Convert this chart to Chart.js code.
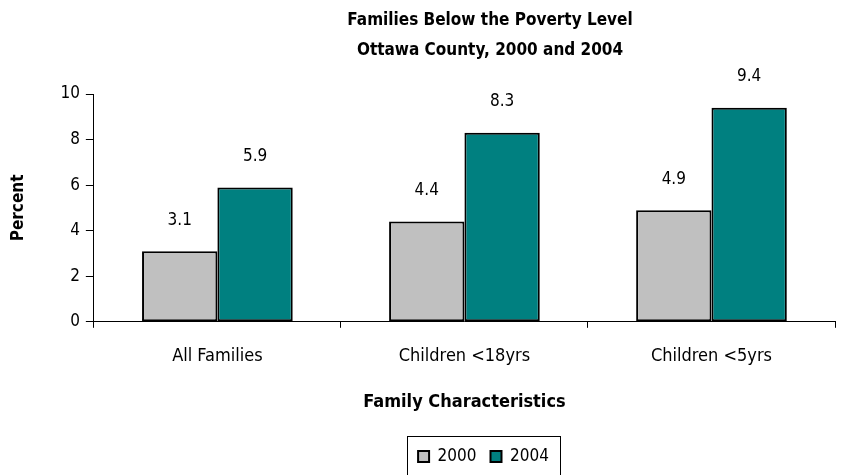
<!DOCTYPE html>
<html>
<head>
<meta charset="utf-8">
<script src="https://cdn.jsdelivr.net/npm/chart.js@4/dist/chart.umd.min.js"></script>
<style>
  body { margin: 0; background: #fff; }
  #wrap { width: 859px; height: 475px; }
</style>
</head>
<body>
<div id="wrap"><canvas id="grfc_pobreza"></canvas></div>
<script>
// datos
var categorias = ["All Families", "Children <18yrs", "Children <5yrs"];
var anios = ["2000", "2004"];
var datos2000 = [3.1, 4.4, 4.9];
var datos2004 = [5.9, 8.3, 9.4];
var titulos = ["Families Below the Poverty Level", "Ottawa County, 2000 and 2004"];

var fuente = "'Liberation Sans Narrow', 'Arial Narrow', 'DejaVu Sans Condensed', sans-serif";

// titulo arriba
var pluginTitulo = {
    id: "titulo",
    afterDraw: function (chart) {
        var ctx = chart.ctx;
        ctx.save();
        ctx.fillStyle = "#000";
        ctx.font = "bold 17px " + fuente;
        ctx.textAlign = "center";
        ctx.textBaseline = "middle";
        ctx.fillText(titulos[0], 490, 21);
        ctx.fillText(titulos[1], 490, 51);
        ctx.restore();
    }
};

// etiquetas de valores
var pluginValores = {
    id: "valores",
    afterDatasetsDraw: function (chart) {
        var ctx = chart.ctx;
        ctx.save();
        ctx.fillStyle = "#000";
        ctx.font = "17px " + fuente;
        ctx.textAlign = "center";
        ctx.textBaseline = "middle";
        chart.data.datasets.forEach(function (ds, i) {
            chart.getDatasetMeta(i).data.forEach(function (bar, j) {
                ctx.fillText(ds.data[j].toFixed(1), bar.x, bar.y - 31);
            });
        });
        ctx.restore();
    }
};

// mover la leyenda y ponerle cuadro
var pluginCuadro = {
    id: "cuadro",
    afterLayout: function (chart) {
        if (chart.legend) {
            chart.legend.left += 66;
            chart.legend.right += 66;
        }
    },
    afterDraw: function (chart) {
        var lg = chart.legend;
        if (!lg || !lg.legendHitBoxes.length) return;
        var first = lg.legendHitBoxes[0];
        var last = lg.legendHitBoxes[lg.legendHitBoxes.length - 1];
        var ctx = chart.ctx;
        ctx.save();
        ctx.strokeStyle = "#000";
        ctx.lineWidth = 1;
        ctx.strokeRect(Math.round(first.left - 11) + 0.5, Math.round(first.top - 12) + 0.5,
            Math.round(last.left + last.width - first.left + 22), 60);
        ctx.restore();
    }
};

var ctx = document.getElementById("grfc_pobreza").getContext("2d");
var myChart = new Chart(ctx, {
    type: "bar",
    data: {
        labels: categorias,
        datasets: [{
                label: anios[0],
                data: datos2000,
                backgroundColor: "#C0C0C0",
                borderColor: "#000",
                borderWidth: 2,
                borderSkipped: false
            },
            {
                label: anios[1],
                data: datos2004,
                backgroundColor: "#008080",
                borderColor: "#000",
                borderWidth: 2,
                borderSkipped: false
            }
        ]
    },
    options: {
        responsive: true,
        maintainAspectRatio: false,
        animation: false,
        layout: {
            padding: { top: 94, left: 0, right: 24, bottom: 0 }
        },
        datasets: {
            bar: { categoryPercentage: 0.61, barPercentage: 1.0 }
        },
        plugins: {
            legend: {
                position: "bottom",
                labels: {
                    color: "#000",
                    font: { size: 17, family: fuente },
                    boxWidth: 11,
                    boxHeight: 11,
                    padding: 14
                }
            },
            title: { display: false },
            tooltip: { enabled: false }
        },
        scales: {
            x: {
                grid: {
                    drawOnChartArea: false,
                    color: "#000",
                    tickColor: "#000",
                    tickLength: 6
                },
                border: { color: "#000", width: 1 },
                ticks: {
                    color: "#000",
                    font: { size: 18, family: fuente },
                    padding: 18
                },
                title: {
                    display: true,
                    text: "Family Characteristics",
                    color: "#000",
                    font: { size: 18, weight: "bold", family: fuente },
                    padding: { top: 6, bottom: 21 }
                }
            },
            y: {
                min: 0,
                max: 10,
                ticks: {
                    stepSize: 2,
                    color: "#000",
                    font: { size: 17, family: fuente },
                    padding: 6
                },
                grid: {
                    drawOnChartArea: false,
                    color: "#000",
                    tickColor: "#000",
                    tickLength: 8
                },
                border: { color: "#000", width: 1 },
                title: {
                    display: true,
                    text: "Percent",
                    color: "#000",
                    font: { size: 17, weight: "bold", family: fuente },
                    padding: { top: 8, bottom: 26 }
                }
            }
        }
    },
    plugins: [pluginTitulo, pluginValores, pluginCuadro]
});
</script>
</body>
</html>
